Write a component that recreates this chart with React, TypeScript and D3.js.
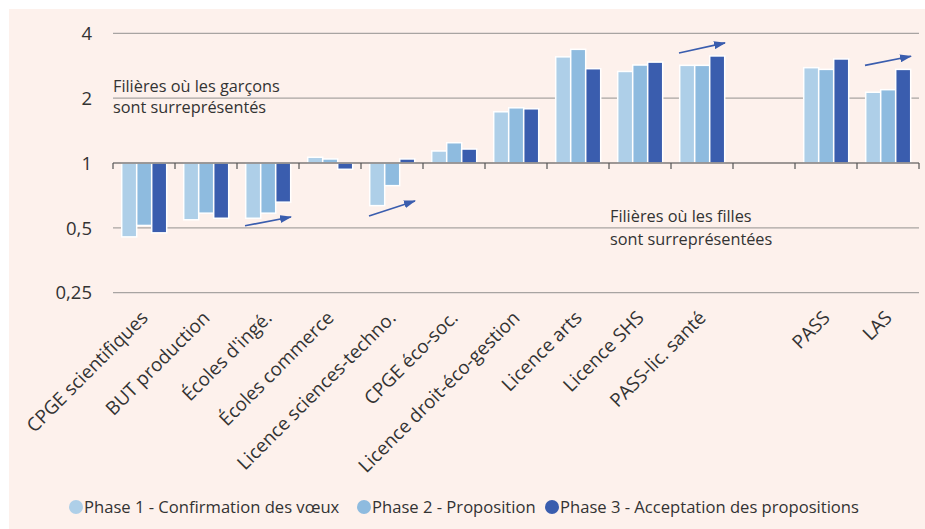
import React from "react";
import * as d3 from "d3";

const categories = [
  "CPGE scientifiques",
  "BUT production",
  "Écoles d'ingé.",
  "Écoles commerce",
  "Licence sciences-techno.",
  "CPGE éco-soc.",
  "Licence droit-éco-gestion",
  "Licence arts",
  "Licence SHS",
  "PASS-lic. santé",
  "",
  "PASS",
  "LAS",
];

const phase1 = [0.454, 0.545, 0.554, 1.063, 0.634, 1.137, 1.729, 3.11, 2.66, 2.84, null, 2.77, 2.13];
const phase2 = [0.513, 0.585, 0.585, 1.044, 0.785, 1.242, 1.804, 3.37, 2.85, 2.84, null, 2.72, 2.19];
const phase3 = [0.474, 0.554, 0.658, 0.935, 1.044, 1.161, 1.785, 2.74, 2.94, 3.14, null, 3.04, 2.72];

const seriesNames = [
  "Phase 1 - Confirmation des vœux",
  "Phase 2 - Proposition",
  "Phase 3 - Acceptation des propositions",
];
const seriesColors = ["#aecfe8", "#8ebbdf", "#3a5dae"];

const yTicks = [0.25, 0.5, 1, 2, 4];
const yTickLabels = ["0,25", "0,5", "1", "2", "4"];

// arrow annotations: category, start value, end value
const arrowCats = ["Écoles d'ingé.", "Licence sciences-techno.", "PASS-lic. santé", "LAS"];
const arrowFrom = [0.511, 0.568, 3.24, 2.84];
const arrowTo = [0.562, 0.667, 3.61, 3.13];

const W = 925;
const H = 529;
const left = 113;
const right = 919;
const FONT = "'Open Sans', 'Noto Sans', sans-serif";
const TEXT = "#333333";

export default function App() {
  const x = d3.scaleBand<number>().domain(d3.range(categories.length)).range([left, right]).paddingInner(0).paddingOuter(0);
  const inner = d3.scaleBand<number>().domain([0, 1, 2]).range([8.7, x.bandwidth() - 8.3]).padding(0);
  const y = d3.scaleLog().base(2).domain([0.25, 4]).range([292.7, 33.3]);
  const series = [phase1, phase2, phase3];
  const y1 = y(1);

  const legendX = [69, 357, 545];

  return (
    <svg width={W} height={H} style={{ position: "absolute", left: 0, top: 0 }} fontFamily={FONT}>
      <defs>
        <marker id="ah" viewBox="0 0 12 8" refX="11" refY="4" markerWidth="12" markerHeight="8" markerUnits="userSpaceOnUse" orient="auto">
          <path d="M0,0 L12,4 L0,8 Z" fill="#3a5dae" />
        </marker>
      </defs>
      <rect x={9} y={9} width={W - 9} height={H - 9} fill="#fdf1ec" />
      {/* gridlines */}
      {yTicks.map((t, i) => (
        <g key={i}>
          {t !== 1 && <line x1={left} x2={right} y1={y(t)} y2={y(t)} stroke="#a8a4a2" strokeWidth={1.3} />}
          <text x={92} y={y(t)} dy="0.36em" textAnchor="end" fontSize={18.5} fill={TEXT}>
            {yTickLabels[i]}
          </text>
        </g>
      ))}
      {/* annotation texts */}
      <text x={113} y={92} fontSize={16.3} fill={TEXT}>Filières où les garçons</text>
      <text x={113} y={113} fontSize={16.3} fill={TEXT}>sont surreprésentés</text>
      <text x={610} y={222} fontSize={16.3} fill={TEXT}>Filières où les filles</text>
      <text x={610} y={245} fontSize={16.3} fill={TEXT}>sont surreprésentées</text>
      {/* bars */}
      {categories.map((c, ci) => (
        <g key={ci} transform={`translate(${x(ci)},0)`}>
          {series.map((s, si) => {
            const v = s[ci];
            if (v == null) return null;
            const yv = y(v);
            return (
              <rect
                key={si}
                x={inner(si)!}
                width={inner.bandwidth()}
                y={Math.min(yv, y1)}
                height={Math.abs(yv - y1)}
                fill={seriesColors[si]}
                stroke="#ffffff"
                strokeWidth={1.5}
              />
            );
          })}
        </g>
      ))}
      {/* axis at 1 */}
      <line x1={left} x2={right} y1={y1} y2={y1} stroke="#7d7979" strokeWidth={1.5} />
      {d3.range(categories.length + 1).map((i) => {
        const xx = i < categories.length ? x(i)! : right;
        return <line key={i} x1={xx} x2={xx} y1={y1} y2={y1 + 6} stroke="#555" strokeWidth={1.2} />;
      })}
      {/* arrows */}
      {arrowCats.map((c, i) => {
        const ci = categories.indexOf(c);
        const bx = x(ci)!;
        return (
          <line
            key={i}
            x1={bx + 8}
            x2={bx + 54}
            y1={y(arrowFrom[i])}
            y2={y(arrowTo[i])}
            stroke="#3a5dae"
            strokeWidth={1.6}
            markerEnd="url(#ah)"
          />
        );
      })}
      {/* x labels */}
      {categories.map((c, ci) =>
        c ? (
          <text
            key={ci}
            transform={`translate(${x(ci)! + x.bandwidth() / 2 + 5},319) rotate(-45)`}
            textAnchor="end"
            fontSize={18.8}
            fill={TEXT}
          >
            {c}
          </text>
        ) : null
      )}
      {/* legend */}
      {seriesNames.map((n, i) => (
        <g key={i} transform={`translate(${legendX[i]},507)`}>
          <circle cx={7} cy={0} r={7} fill={seriesColors[i]} />
          <text x={15} y={0} dy="0.35em" fontSize={16.6} fill={TEXT}>
            {n}
          </text>
        </g>
      ))}
    </svg>
  );
}
